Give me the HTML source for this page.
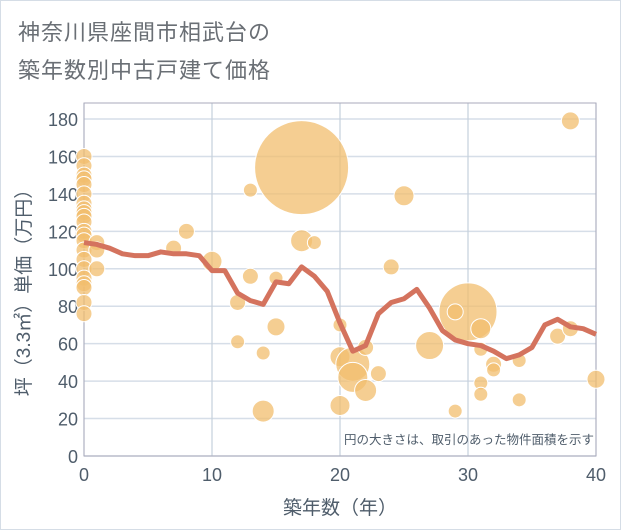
<!DOCTYPE html>
<html><head><meta charset="utf-8"><style>
body{margin:0;background:#fff;}
#wrap{position:relative;width:619px;height:528px;border:1px solid #d5dde6;background:#fff;font-family:"Liberation Sans","Noto Sans CJK JP",sans-serif;}
.title{position:absolute;left:17px;font-size:22px;color:#6a6f75;letter-spacing:1px;}
</style></head><body>
<div id="wrap">
<div class="title" style="top:14px">神奈川県座間市相武台の</div>
<div class="title" style="top:52px">築年数別中古戸建て価格</div>
<svg id="chart" width="621" height="530" style="position:absolute;left:-1px;top:-1px"></svg>
</div>
<script>
const xTicks=[0,10,20,30,40];
const yTicks=[0,20,40,60,80,100,120,140,160,180];
const lineYears=[0,1,2,3,4,5,6,7,8,9,10,11,12,13,14,15,16,17,18,19,20,21,22,23,24,25,26,27,28,29,30,31,32,33,34,35,36,37,38,39,40];
const lineValues=[114,113,111,108,107,107,109,108,108,107,99,99,87,83,81,93,92,101,96,88,71,56,59,76,82,84,89,79,67,62,60,59,56,52,54,58,70,73,69,68,65];
const bubbleYears=[17,30,0,0,0,0,0,0,0,0,0,0,0,0,0,0,0,0,0,0,0,0,0,0,1,1,1,7,8,10,12,12,13,13,14,14,15,15,17,18,20,20,20,21,21,22,22,23,24,25,27,29,29,31,31,31,31,32,32,34,34,37,38,38,40];
const bubbleValues=[154,77,160,155,150,148,145,140,135,132,130,128,125,120,118,115,110,105,100,95,92,90,82,76,114,110,100,111,120,104,82,61,96,142,55,24,95,69,115,114,70,27,53,49,42,58,35,44,101,139,59,77,24,68,57,39,33,49,46,51,30,64,68,179,41];
const bubbleSizes=[47,29,8,8,8,8,8,8,8,8,8,8,8,8,8,8,8,8,8,8,8,8,8,8,8,8,8,8,8,10,8,7,8,7,7,11,7,9,11,7,7,10,10,17,15,8,11,8,8,10,14,8,7,10,7,7,7,8,7,7,7,8,8,9,9];
const L=84,R=596,T=103,B=456;
const sx=v=>L+(v-0)/40*(R-L);
const sy=v=>B-v/180*(B-119);
const svg=document.getElementById('chart');const NS='http://www.w3.org/2000/svg';
function mk(t,a,p){const e=document.createElementNS(NS,t);for(const k in a)e.setAttribute(k,a[k]);(p||svg).appendChild(e);return e;}
const TC='#4f5d6b';
yTicks.forEach(v=>{const g=mk('line',{x1:L,x2:R,y1:sy(v),y2:sy(v),stroke:'#d6dee8','stroke-width':1.5});

const t=mk('text',{x:L-6,y:sy(v)+7,'text-anchor':'end','font-size':18,fill:TC,'font-family':'Liberation Sans, sans-serif'});t.textContent=v;
});
xTicks.forEach(v=>{const g=mk('line',{x1:sx(v),x2:sx(v),y1:T,y2:B,stroke:'#c5d0dc','stroke-width':1.2});

const t=mk('text',{x:sx(v),y:B+25,'text-anchor':'middle','font-size':18,fill:TC,'font-family':'Liberation Sans, sans-serif'});t.textContent=v;
});
const fr=mk('rect',{x:L,y:T,width:R-L,height:B-T,fill:'none',stroke:'#aab','stroke-width':1});

bubbleYears.forEach((yr,i)=>{const c=mk('circle',{cx:sx(yr),cy:sy(bubbleValues[i]),r:bubbleSizes[i],fill:'rgba(242,190,110,0.75)',stroke:'#fff','stroke-width':1});
});
const pl=mk('polyline',{points:lineYears.map((y,i)=>sx(y)+','+sy(lineValues[i])).join(' '),fill:'none',stroke:'#d4735e','stroke-width':5,'stroke-linejoin':'round'});

const note=mk('text',{x:594,y:444,'text-anchor':'end','font-size':12.5,fill:TC,'font-family':'Liberation Sans, Noto Sans CJK JP, sans-serif'});note.textContent='円の大きさは、取引のあった物件面積を示す';

const xl=mk('text',{x:340,y:514,'text-anchor':'middle','font-size':19,fill:TC,'font-family':'Liberation Sans, Noto Sans CJK JP, sans-serif'});xl.textContent='築年数（年）';

const yl=mk('text',{x:0,y:0,'text-anchor':'middle','font-size':19,fill:TC,'font-family':'Liberation Sans, Noto Sans CJK JP, sans-serif',transform:'translate(30,288) rotate(-90)'});yl.textContent='坪（3.3㎡）単価（万円）';

</script>
</body></html>
